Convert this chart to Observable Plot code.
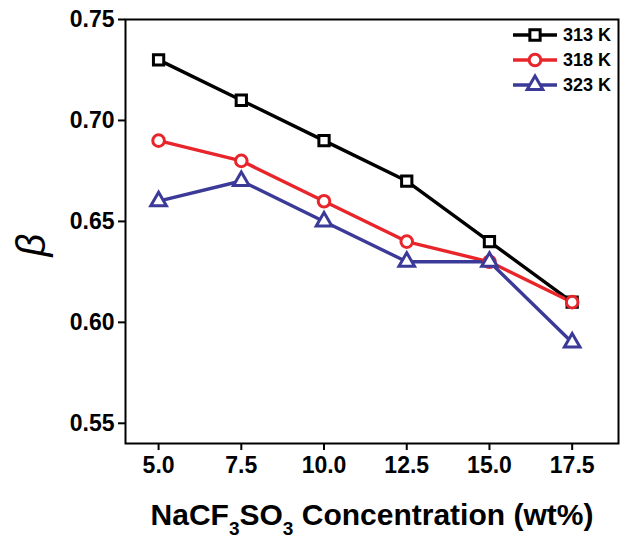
<!DOCTYPE html>
<html>
<head>
<meta charset="utf-8">
<script src="https://cdn.jsdelivr.net/npm/d3@7"></script>
<script src="https://cdn.jsdelivr.net/npm/@observablehq/plot@0.6"></script>
<style>
  html, body { margin: 0; padding: 0; background: #fff; }
  #chart { width: 634px; height: 540px; }
</style>
</head>
<body>
<div id="chart"></div>
<script>
const concentrations = [5.0, 7.5, 10.0, 12.5, 15.0, 17.5];
const beta313 = [0.73, 0.71, 0.69, 0.67, 0.64, 0.61];
const beta318 = [0.69, 0.68, 0.66, 0.64, 0.63, 0.61];
const beta323 = [0.66, 0.67, 0.65, 0.63, 0.63, 0.59];
const seriesNames = ["313 K", "318 K", "323 K"];
const seriesColors = ["#000000", "#e8252b", "#3b3a98"];
const seriesSymbols = ["square", "circle", "triangle"];
const xTicks = [5.0, 7.5, 10.0, 12.5, 15.0, 17.5];
const yTicks = [0.55, 0.60, 0.65, 0.70, 0.75];

const seriesValues = [beta313, beta318, beta323];
const data = [];
seriesNames.forEach((s, i) => {
  concentrations.forEach((c, j) => data.push({series: s, x: c, y: seriesValues[i][j]}));
});

const font = "'Liberation Sans', Arial, sans-serif";
const R = 5.8;

const svg = Plot.plot({
  width: 634,
  height: 540,
  marginLeft: 125,
  marginRight: 16,
  marginTop: 19,
  marginBottom: 97,
  style: {fontFamily: font, fontWeight: "bold", fontSize: "23px", color: "#000", background: "#fff"},
  x: {domain: [4.0, 18.9]},
  y: {domain: [0.54, 0.75]},
  color: {domain: seriesNames, range: seriesColors},
  symbol: {domain: seriesNames, range: seriesSymbols},
  marks: [
    Plot.axisX({ticks: xTicks, tickFormat: d => d.toFixed(1), tickSize: 7, tickPadding: 6, strokeWidth: 2, label: null, fontSize: 23}),
    Plot.axisY({ticks: yTicks, tickFormat: d => d.toFixed(2), tickSize: 7, tickPadding: 4, strokeWidth: 2, label: null, fontSize: 23}),
    Plot.frame({stroke: "#000", strokeWidth: 2}),
    Plot.line(data, {x: "x", y: "y", z: "series", stroke: "series", strokeWidth: 3.4}),
    Plot.dot(data, {x: "x", y: "y", symbol: "series", stroke: "series", fill: "#fff", r: R, strokeWidth: 3})
  ]
});

document.getElementById("chart").appendChild(svg);

const s = d3.select(svg);

// Y axis title (beta)
s.append("text")
  .attr("transform", "translate(45,245) rotate(-90)")
  .attr("text-anchor", "middle")
  .attr("font-family", font)
  .attr("font-style", "italic")
  .attr("font-weight", "normal")
  .attr("font-size", 40)
  .attr("fill", "#000")
  .text("β");

// X axis title with subscripts
const xt = s.append("text")
  .attr("x", 372)
  .attr("y", 525)
  .attr("text-anchor", "middle")
  .attr("font-family", font)
  .attr("font-weight", "bold")
  .attr("font-size", 30)
  .attr("fill", "#000");
xt.append("tspan").text("NaCF");
xt.append("tspan").attr("font-size", 19).attr("dy", 10).text("3");
xt.append("tspan").attr("dy", -10).text("SO");
xt.append("tspan").attr("font-size", 19).attr("dy", 10).text("3");
xt.append("tspan").attr("dy", -10).text(" Concentration (wt%)");

// Legend
const symMap = {square: d3.symbolSquare, circle: d3.symbolCircle, triangle: d3.symbolTriangle};
const legendY = [35, 60, 85];
seriesNames.forEach((name, i) => {
  const g = s.append("g").attr("transform", `translate(0,${legendY[i]})`);
  g.append("line").attr("x1", 513).attr("x2", 557).attr("y1", 0).attr("y2", 0)
    .attr("stroke", seriesColors[i]).attr("stroke-width", 3.4);
  g.append("path")
    .attr("d", d3.symbol(symMap[seriesSymbols[i]], Math.PI * R * R)())
    .attr("transform", "translate(535,0)")
    .attr("fill", "#fff").attr("stroke", seriesColors[i]).attr("stroke-width", 3);
  g.append("text").attr("x", 563).attr("y", 0).attr("dy", "0.36em")
    .attr("text-anchor", "start")
    .attr("font-family", font).attr("font-weight", "bold").attr("font-size", 18)
    .attr("fill", "#000").text(name);
});
</script>
</body>
</html>
